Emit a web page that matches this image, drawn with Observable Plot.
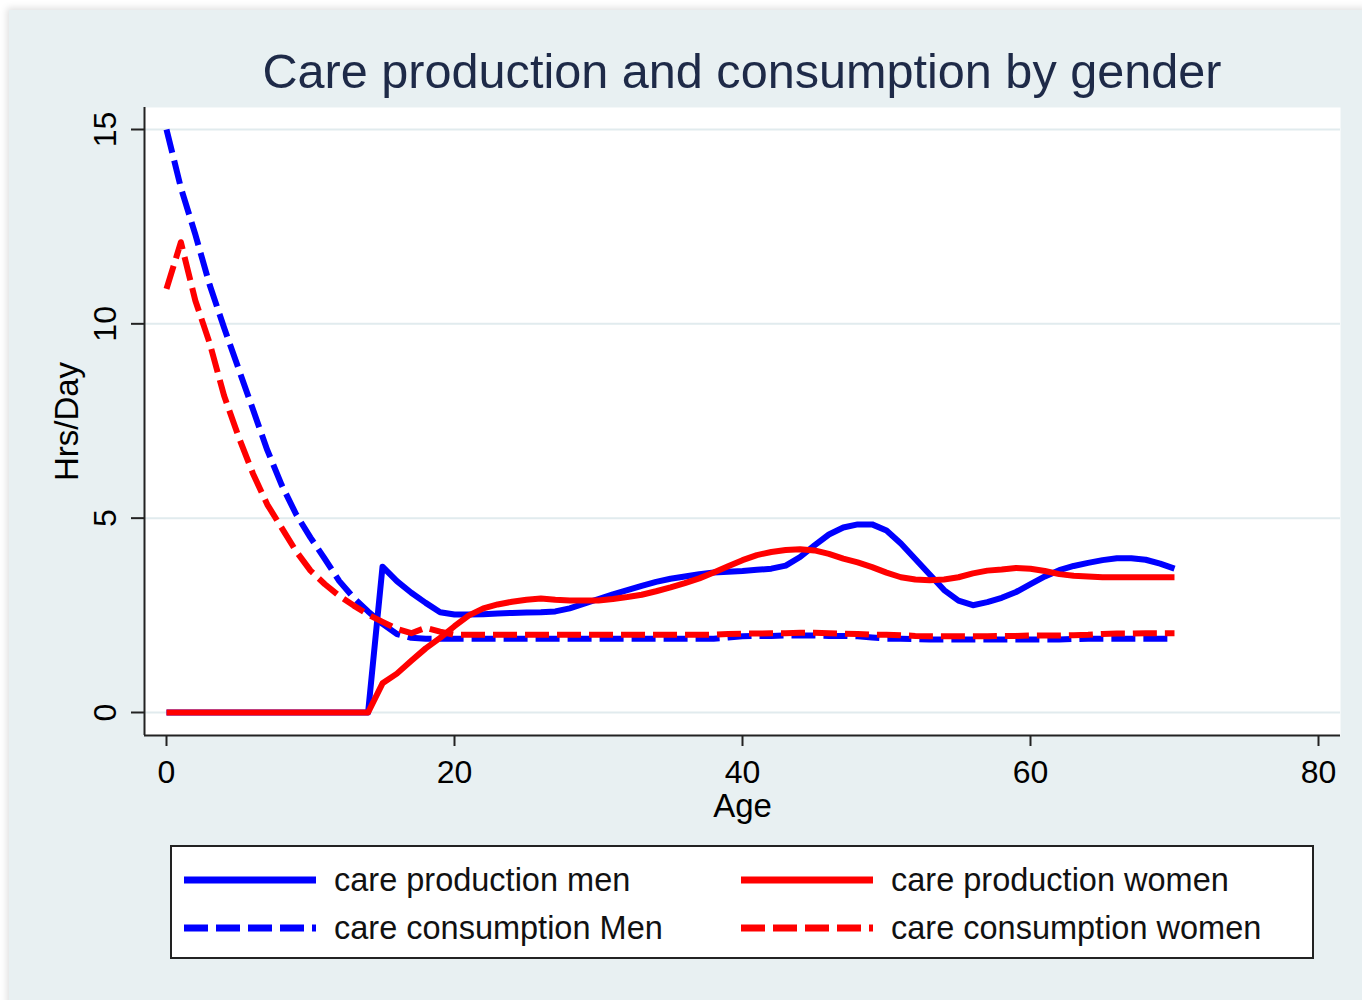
<!DOCTYPE html>
<html>
<head>
<meta charset="utf-8">
<script src="https://cdn.jsdelivr.net/npm/d3@7"></script>
<script src="https://cdn.jsdelivr.net/npm/@observablehq/plot@0.6"></script>
<style>
  html, body { margin: 0; padding: 0; background: #ffffff; }
  #page { position: relative; width: 1362px; height: 1000px; overflow: hidden; font-family: "Liberation Sans", Arial, sans-serif; }
  #panel { position: absolute; left: 9px; top: 10px; width: 1360px; height: 1000px; background: #e8f0f2; box-shadow: -2px -2px 7px rgba(0,0,0,0.13); }
  #chart { position: absolute; left: 0; top: 0; }
  #title { position: absolute; left: 142px; width: 1200px; top: 47px; text-align: center; font-size: 48.6px; line-height: 48px; color: #1e2a48; white-space: nowrap; }
  #legend { position: absolute; left: 170px; top: 845px; width: 1140px; height: 110px; background: #fff; border: 2px solid #222; }
  .item { position: absolute; display: flex; align-items: center; height: 40px; font-size: 32.5px; color: #111; white-space: nowrap; }
  .item svg { margin-right: 17px; }
</style>
</head>
<body>
<div id="page">
  <div id="panel"></div>
  <div id="chart"></div>
  <div id="title">Care production and consumption by gender</div>
  <div id="legend"></div>
</div>
<script>
// ---- data (ages 0..70, hours per day) ----
const ages = d3.range(0, 71);

const prodMen = [
  0,0,0,0,0,0,0,0,0,0, 0,0,0,0,0, 3.75,3.38,3.08,2.82,2.58,
  2.52,2.52,2.53,2.55,2.56,2.57,2.58,2.6,2.68,2.8,
  2.92,3.04,3.15,3.26,3.36,3.44,3.5,3.56,3.6,3.62,
  3.64,3.67,3.7,3.78,4.0,4.3,4.58,4.76,4.84,4.84,
  4.68,4.35,3.95,3.55,3.15,2.88,2.76,2.84,2.95,3.1,
  3.3,3.5,3.66,3.77,3.85,3.92,3.97,3.97,3.93,3.83,
  3.7
];

const consMen = [
  15,13.5,12.3,11.0,9.9,8.85,7.8,6.75,5.85,5.1,
  4.5,3.95,3.38,2.95,2.6,2.28,2.02,1.92,1.9,1.9,
  1.9,1.9,1.9,1.9,1.9,1.9,1.9,1.9,1.9,1.9,
  1.9,1.9,1.9,1.9,1.9,1.9,1.9,1.9,1.9,1.93,
  1.96,1.97,1.97,1.98,1.98,1.98,1.97,1.97,1.96,1.93,
  1.9,1.9,1.89,1.88,1.88,1.88,1.88,1.88,1.88,1.88,
  1.88,1.88,1.88,1.89,1.9,1.9,1.9,1.9,1.9,1.9,
  1.9
];

const prodWomen = [
  0,0,0,0,0,0,0,0,0,0, 0,0,0,0,0, 0.75,1.0,1.33,1.65,1.92,
  2.22,2.5,2.68,2.78,2.85,2.9,2.93,2.9,2.88,2.88,
  2.88,2.92,2.97,3.03,3.12,3.22,3.33,3.45,3.6,3.76,
  3.92,4.05,4.13,4.18,4.2,4.17,4.08,3.96,3.86,3.74,
  3.6,3.48,3.42,3.4,3.42,3.48,3.58,3.65,3.68,3.72,
  3.7,3.64,3.56,3.52,3.5,3.48,3.48,3.48,3.48,3.48,
  3.48
];

const consWomen = [
  10.9,12.1,10.6,9.5,8.15,7.1,6.15,5.35,4.75,4.15,
  3.65,3.3,3.0,2.75,2.52,2.33,2.15,2.04,2.18,2.08,
  2.0,2.0,2.0,2.0,2.0,2.0,2.0,2.0,2.0,2.0,
  2.0,2.0,2.0,2.0,2.0,2.0,2.0,2.0,2.0,2.02,
  2.03,2.03,2.04,2.04,2.05,2.05,2.04,2.03,2.02,2.0,
  2.0,1.99,1.97,1.96,1.96,1.96,1.96,1.96,1.97,1.97,
  1.98,1.98,1.98,1.99,2.0,2.02,2.03,2.03,2.04,2.04,
  2.04
];

const seriesNames = ["care production men", "care production women", "care consumption Men", "care consumption women"];
const xTicks = [0, 20, 40, 60, 80];
const yTicks = [0, 5, 10, 15];
const xDomain = [-1.528, 81.528];
const yDomain = [-0.592, 15.566];

// ---- styles ----
const BLUE = "#0000ff", RED = "#ff0000";
const DASH = "24,8";
const series = [
  {name: seriesNames[0], values: prodMen,   color: BLUE, dash: null},
  {name: seriesNames[2], values: consMen,   color: BLUE, dash: DASH},
  {name: seriesNames[1], values: prodWomen, color: RED,  dash: null},
  {name: seriesNames[3], values: consWomen, color: RED,  dash: DASH}
];

const lineMarks = series.map(s =>
  Plot.line(ages.map((a, i) => ({age: a, value: s.values[i]})), {
    x: "age", y: "value", stroke: s.color, strokeWidth: 6,
    strokeDasharray: s.dash, strokeLinejoin: "round", strokeLinecap: "butt"
  })
);

const chart = Plot.plot({
  width: 1362,
  height: 840,
  marginLeft: 144,
  marginRight: 22,
  marginTop: 107,
  marginBottom: 105,
  style: {background: "transparent", fontFamily: "'Liberation Sans', Arial, sans-serif", fontSize: "32px", color: "#000", overflow: "visible"},
  x: {domain: xDomain},
  y: {domain: yDomain},
  marks: [
    Plot.frame({fill: "white", stroke: null}),
    Plot.gridY(yTicks, {stroke: "#e1ebee", strokeOpacity: 1, strokeWidth: 2}),
    Plot.axisX(xTicks, {tickSize: 11, tickPadding: 14, label: null, stroke: "#222", strokeWidth: 2, fill: "#000", fontSize: 32}),
    Plot.axisY(yTicks, {tickSize: 13, tickPadding: 16, tickRotate: -90, label: null, stroke: "#222", strokeWidth: 2, fill: "#000", fontSize: 32}),
    Plot.ruleX([xDomain[0]], {stroke: "#222", strokeWidth: 2}),
    Plot.ruleY([yDomain[0]], {stroke: "#222", strokeWidth: 2}),
    ...lineMarks,
    Plot.text(["Hrs/Day"], {frameAnchor: "left", dx: -77, rotate: -90, text: d => d, fontSize: 33, fill: "#000", textAnchor: "middle", lineAnchor: "middle"}),
    Plot.text(["Age"], {frameAnchor: "bottom", dy: 71, text: d => d, fontSize: 33, fill: "#000", textAnchor: "middle", lineAnchor: "middle"})
  ]
});
document.getElementById("chart").appendChild(chart);

// ---- legend (two columns, row-wise like Stata) ----
const legend = document.getElementById("legend");
const legendItems = [
  {s: series[0], left: 11, top: 13},
  {s: series[2], left: 568, top: 13},
  {s: series[1], left: 11, top: 61},
  {s: series[3], left: 568, top: 61}
];
legendItems.forEach(({s, left, top}) => {
  const div = document.createElement("div");
  div.className = "item";
  div.style.left = left + "px";
  div.style.top = top + "px";
  const w = 134;
  div.innerHTML = `<svg width="${w}" height="12"><line x1="1" x2="${w - 1}" y1="6" y2="6" stroke="${s.color}" stroke-width="7" ${s.dash ? `stroke-dasharray="${s.dash}"` : ""} stroke-linecap="butt"/></svg><span>${s.name}</span>`;
  legend.appendChild(div);
});
</script>
</body>
</html>
